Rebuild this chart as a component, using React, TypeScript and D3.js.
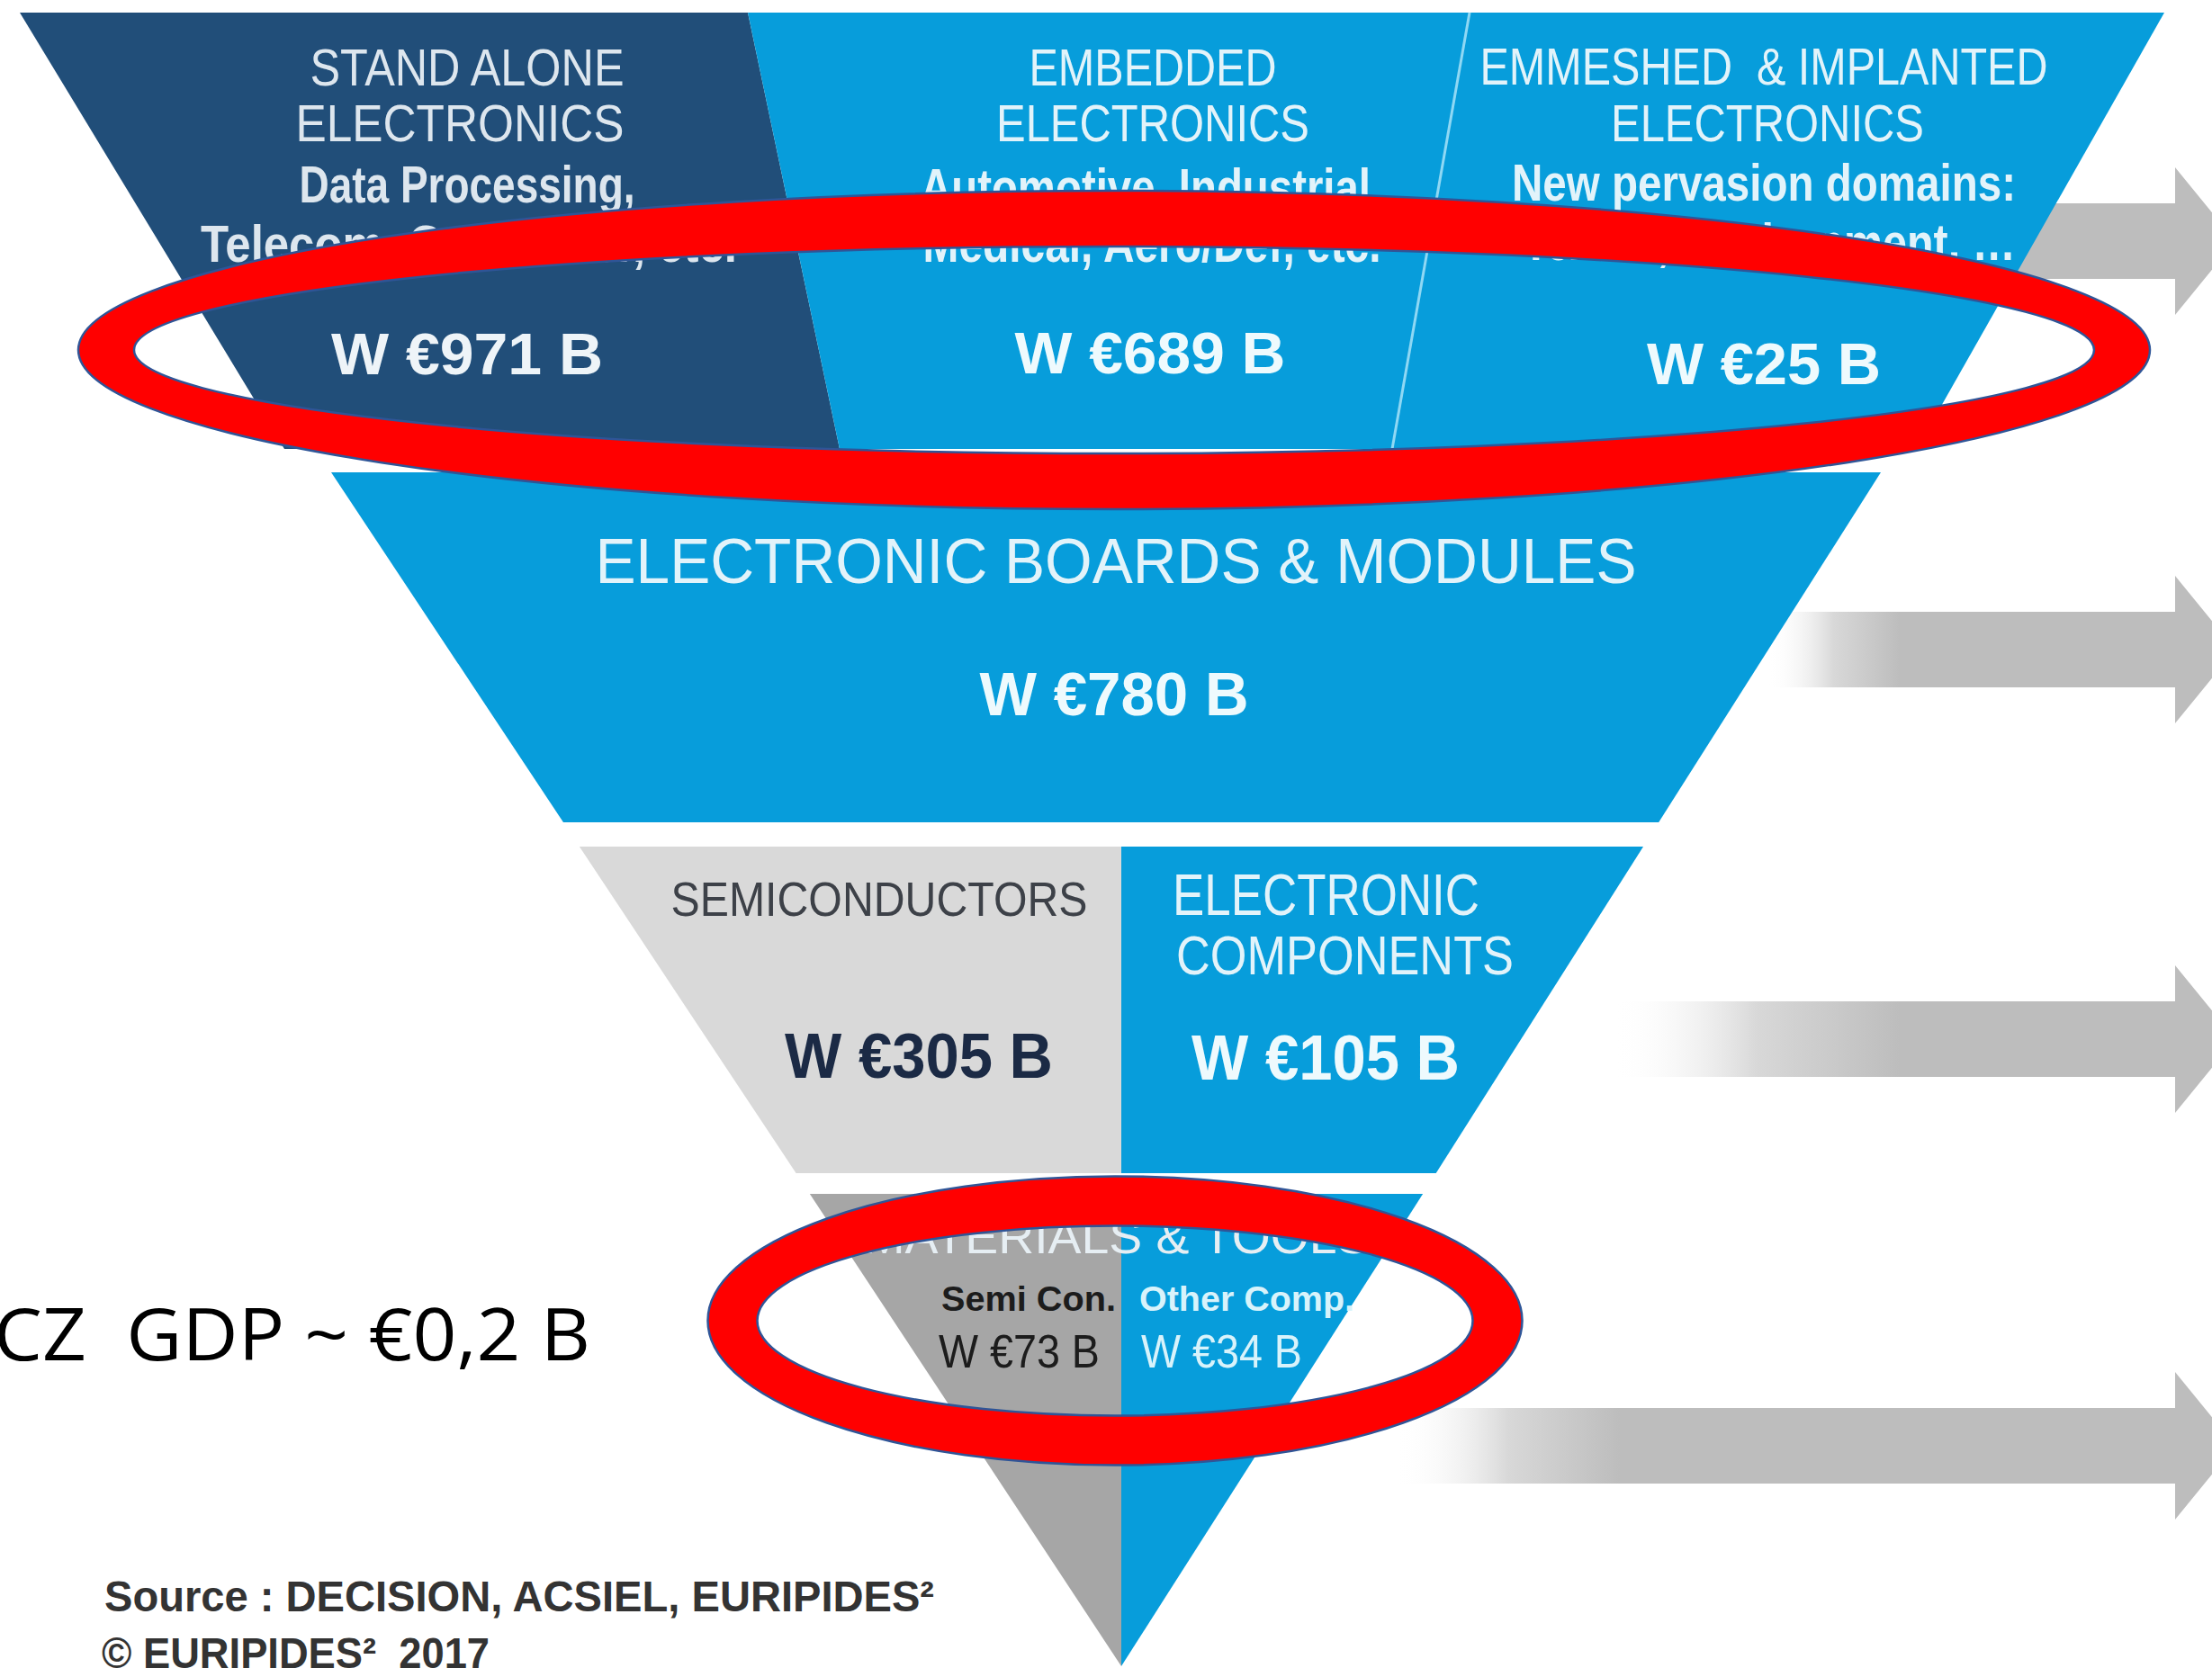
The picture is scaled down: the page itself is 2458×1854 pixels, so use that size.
import React from "react";
import * as d3 from "d3";

// ---------- data ----------
const topSegmentTitles = [
  ["STAND ALONE", "ELECTRONICS"],
  ["EMBEDDED", "ELECTRONICS"],
  ["EMMESHED  & IMPLANTED", "ELECTRONICS"],
];
const topSegmentDomains = [
  ["Data Processing,", "Telecom, Consumer, etc."],
  ["Automotive, Industrial", "Medical, Aero/Def, etc."],
  ["New pervasion domains:", "Textile, Environment, …"],
];
const topSegmentValues = [971, 689, 25];
const boardsTitle = "ELECTRONIC BOARDS & MODULES";
const boardsValue = 780;
const componentTitles = [["SEMICONDUCTORS"], ["ELECTRONIC", "COMPONENTS"]];
const componentValues = [305, 105];
const materialsTitle = "MATERIALS & TOOLS";
const materialNames = ["Semi Con.", "Other Comp."];
const materialValues = [73, 34];
const czNote = "CZ  GDP ~ €0,2 B";
const sourceLines = ["Source : DECISION, ACSIEL, EURIPIDES²", "© EURIPIDES²  2017"];

const fmt = (v: number) => `W €${v} B`;

// ---------- layout ----------
const W = 2458;
const H = 1854;
const NARROW = "'Liberation Sans Narrow','Arial Narrow','Liberation Sans',Arial,sans-serif";
const DARK = "#214e79";
const BLUE = "#079ddb";
const LGRAY = "#d9d9d9";
const MGRAY = "#a6a6a6";
const TXT_LIGHT = "#e2f3fa";

const bands = [
  { y0: 14, y1: 499 },
  { y0: 525, y1: 914 },
  { y0: 941, y1: 1304 },
  { y0: 1327, y1: 1852 },
];
const leftEdge = d3.scaleLinear().domain([14, 499, 525, 1852]).range([22, 316, 368, 1248]);
const rightEdge = d3.scaleLinear().domain([14, 499, 525, 1852]).range([2405, 2130, 2090, 1248]);
const line = d3.line();

type P = [number, number];
function poly(pts: P[]) {
  return line(pts) + "Z";
}
function ring(cx: number, cy: number, rx: number, ry: number, t: number) {
  const e = (a: number, b: number) =>
    `M${cx - a},${cy}a${a},${b} 0 1,0 ${2 * a},0a${a},${b} 0 1,0 ${-2 * a},0Z`;
  return e(rx + t / 2, ry + t / 2) + e(rx - t / 2, ry - t / 2);
}

function T(props: {
  x: number; y: number; w: number; size: number; children: string;
  anchor?: string; weight?: string | number; fill?: string; family?: string;
}) {
  const { x, y, w, size, children, anchor = "middle", weight = "normal", fill = TXT_LIGHT, family = NARROW } = props;
  return (
    <text
      x={x}
      y={y}
      fontSize={size}
      fontFamily={family}
      fontWeight={weight}
      fill={fill}
      textAnchor={anchor}
      textLength={w}
      lengthAdjust="spacingAndGlyphs"
      style={{ whiteSpace: "pre" }}
    >
      {children}
    </text>
  );
}

const arrows = [
  { cy: 268, x0: 2000, xg: 2200 },
  { cy: 722, x0: 1964, xg: 2111 },
  { cy: 1155, x0: 1793, xg: 2111 },
  { cy: 1607, x0: 1552, xg: 1800 },
];
const shaftHalf = 42;
const headHalf = 82;
const headBase = 2417;
const headTip = 2484;

export default function App() {
  const b1 = bands[0], b2 = bands[1], b3 = bands[2], b4 = bands[3];
  const div1: [number, number] = [831, 933];
  const div2: [number, number] = [1633, 1547];
  const mid = 1246;

  return (
    <svg
      width={W}
      height={H}
      viewBox={`0 0 ${W} ${H}`}
      style={{ position: "absolute", left: 0, top: 0, display: "block", background: "#fff" }}
    >
      <defs>
        {arrows.map((a, i) => (
          <linearGradient key={i} id={`ag${i}`} gradientUnits="userSpaceOnUse" x1={a.x0} x2={a.xg} y1={0} y2={0}>
            <stop offset="0" stopColor="#ffffff" stopOpacity={0} />
            <stop offset="0.5" stopColor="#d8d8d8" stopOpacity={1} />
            <stop offset="1" stopColor="#bdbdbd" stopOpacity={1} />
          </linearGradient>
        ))}
      </defs>

      {/* arrows */}
      {arrows.map((a, i) => (
        <path
          key={i}
          d={poly([
            [a.x0, a.cy - shaftHalf],
            [headBase, a.cy - shaftHalf],
            [headBase, a.cy - headHalf],
            [headTip, a.cy],
            [headBase, a.cy + headHalf],
            [headBase, a.cy + shaftHalf],
            [a.x0, a.cy + shaftHalf],
          ])}
          fill={`url(#ag${i})`}
        />
      ))}

      {/* band 1 */}
      <path
        d={poly([
          [leftEdge(b1.y0), b1.y0], [div1[0], b1.y0], [div1[1], b1.y1], [leftEdge(b1.y1 - 0.01), b1.y1],
        ])}
        fill={DARK}
      />
      <path
        d={poly([
          [div1[0], b1.y0], [rightEdge(b1.y0), b1.y0], [rightEdge(b1.y1 - 0.01), b1.y1], [div1[1], b1.y1],
        ])}
        fill={BLUE}
      />
      <line x1={div2[0]} y1={b1.y0} x2={div2[1]} y2={b1.y1} stroke="#8fd8f4" strokeWidth={3} />

      {/* band 2 */}
      <path
        d={poly([
          [leftEdge(b2.y0), b2.y0], [rightEdge(b2.y0), b2.y0], [rightEdge(b2.y1), b2.y1], [leftEdge(b2.y1), b2.y1],
        ])}
        fill={BLUE}
      />

      {/* band 3 */}
      <path
        d={poly([[leftEdge(b3.y0), b3.y0], [mid, b3.y0], [mid, b3.y1], [leftEdge(b3.y1), b3.y1]])}
        fill={LGRAY}
      />
      <path
        d={poly([[mid, b3.y0], [rightEdge(b3.y0), b3.y0], [rightEdge(b3.y1), b3.y1], [mid, b3.y1]])}
        fill={BLUE}
      />

      {/* band 4 */}
      <path d={poly([[leftEdge(b4.y0), b4.y0], [mid, b4.y0], [mid, b4.y1]])} fill={MGRAY} />
      <path d={poly([[mid, b4.y0], [rightEdge(b4.y0), b4.y0], [mid, b4.y1]])} fill={BLUE} />

      {/* band 1 texts */}
      <T x={519} y={95} w={349} size={57} fill="#dde6ee">{topSegmentTitles[0][0]}</T>
      <T x={511} y={157} w={365} size={57} fill="#dde6ee">{topSegmentTitles[0][1]}</T>
      <T x={519} y={225} w={373} size={57} weight="bold" fill="#dde6ee">{topSegmentDomains[0][0]}</T>
      <T x={521} y={291} w={596} size={57} weight="bold" fill="#dde6ee">{topSegmentDomains[0][1]}</T>
      <T x={519} y={416} w={302} size={64} weight="bold" fill="#eef4f8">{fmt(topSegmentValues[0])}</T>

      <T x={1281} y={95} w={275} size={57}>{topSegmentTitles[1][0]}</T>
      <T x={1281} y={157} w={348} size={57}>{topSegmentTitles[1][1]}</T>
      <T x={1273} y={228} w={500} size={57} weight="bold">{topSegmentDomains[1][0]}</T>
      <T x={1280} y={291} w={509} size={57} weight="bold">{topSegmentDomains[1][1]}</T>
      <T x={1278} y={415} w={301} size={64} weight="bold" fill="#eefafd">{fmt(topSegmentValues[1])}</T>

      <T x={1960} y={94} w={631} size={57}>{topSegmentTitles[2][0]}</T>
      <T x={1964} y={157} w={348} size={57}>{topSegmentTitles[2][1]}</T>
      <T x={1960} y={223} w={560} size={57} weight="bold">{topSegmentDomains[2][0]}</T>
      <T x={1966} y={289} w={548} size={57} weight="bold">{topSegmentDomains[2][1]}</T>
      <T x={1960} y={427} w={260} size={64} weight="bold" fill="#eefafd">{fmt(topSegmentValues[2])}</T>

      {/* band 2 texts */}
      <T x={1240} y={648} w={1157} size={71}>{boardsTitle}</T>
      <T x={1238} y={795} w={299} size={68} weight="bold" fill="#eefafd">{fmt(boardsValue)}</T>

      {/* band 3 texts */}
      <T x={977} y={1018} w={463} size={53} fill="#3d4148">{componentTitles[0][0]}</T>
      <T x={1021} y={1198} w={298} size={70} weight="bold" fill="#1b2a45">{fmt(componentValues[0])}</T>
      <T x={1303} y={1017} w={341} size={65} anchor="start">{componentTitles[1][0]}</T>
      <T x={1307} y={1083} w={375} size={62} anchor="start">{componentTitles[1][1]}</T>
      <T x={1473} y={1200} w={298} size={70} weight="bold" fill="#eefafd">{fmt(componentValues[1])}</T>

      {/* band 4 texts */}
      <T x={1241} y={1393} w={563} size={53} fill="#e6eef3">{materialsTitle}</T>
      <T x={1240} y={1457} w={194} size={38} anchor="end" weight="bold" fill="#1c1c1c">{materialNames[0]}</T>
      <T x={1222} y={1520} w={179} size={52} anchor="end" fill="#1c1c1c">{fmt(materialValues[0])}</T>
      <T x={1266} y={1457} w={239} size={38} anchor="start" weight="bold" fill="#d8f3fb">{materialNames[1]}</T>
      <T x={1268} y={1520} w={179} size={52} anchor="start" fill="#d8f3fb">{fmt(materialValues[1])}</T>

      {/* highlight rings */}
      <path d={ring(1238, 389, 1120, 146, 62)} fill="#ff0000" fillRule="evenodd" stroke="#2f5597" strokeWidth={2.5} />
      <path d={ring(1239, 1468, 425, 133, 55)} fill="#ff0000" fillRule="evenodd" stroke="#2f5597" strokeWidth={2.5} />

      {/* side note */}
      <T x={-7} y={1512} w={663} size={80} anchor="start" fill="#000" family="'Open Sans','Noto Sans',sans-serif">
        {czNote}
      </T>

      {/* source */}
      <T x={116} y={1791} w={922} size={48} anchor="start" weight="bold" fill="#333">{sourceLines[0]}</T>
      <T x={113} y={1854} w={431} size={48} anchor="start" weight="bold" fill="#333">{sourceLines[1]}</T>
    </svg>
  );
}
